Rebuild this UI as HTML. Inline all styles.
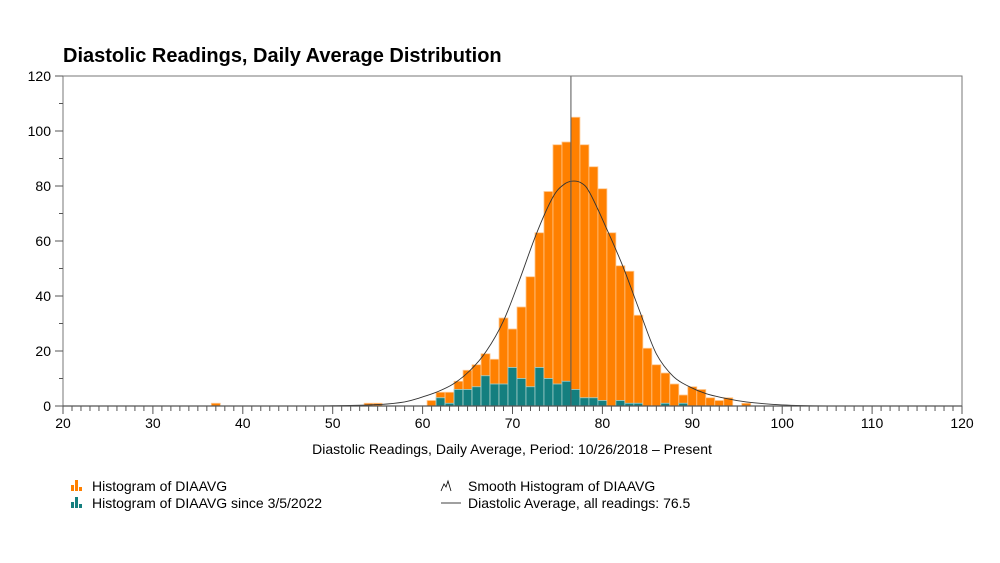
<!DOCTYPE html>
<html><head><meta charset="utf-8"><style>
body{margin:0;background:#fff;font-family:"Liberation Sans",Arial,sans-serif}
svg{display:block}
</style></head><body>
<svg id="c" width="1000" height="563" viewBox="0 0 1000 563">
<text x="63" y="62" font-size="20" font-weight="bold" fill="#000">Diastolic Readings, Daily Average Distribution</text>
<g id="plot"></g>
<text x="512" y="454" font-size="14" text-anchor="middle">Diastolic Readings, Daily Average, Period: 10/26/2018 – Present</text>
<g font-size="14">
 <g>
  <rect x="71" y="485" width="3" height="6" fill="#ff8000"/><rect x="75" y="480" width="3" height="11" fill="#ff8000"/><rect x="79" y="487" width="3" height="4" fill="#ff8000"/>
  <text x="92" y="491">Histogram of DIAAVG</text></g>
 <g>
  <rect x="71" y="502" width="3" height="6" fill="#147f7f"/><rect x="75" y="497" width="3" height="11" fill="#147f7f"/><rect x="79" y="504" width="3" height="4" fill="#147f7f"/>
  <text x="92" y="508">Histogram of DIAAVG since 3/5/2022</text></g>
 <g>
  <path d="M441 491 L444 484 L446 487 L448 481 L451 491" fill="none" stroke="#000" stroke-width="0.8"/>
  <text x="468" y="491">Smooth Histogram of DIAAVG</text></g>
 <g>
  <line x1="441" y1="503" x2="461" y2="503" stroke="#000" stroke-width="0.8"/>
  <text x="468" y="508">Diastolic Average, all readings: 76.5</text></g>
</g>
</svg>
<script>
const bins=[37,54,55,61,62,63,64,65,66,67,68,69,70,71,72,73,74,75,76,77,78,79,80,81,82,83,84,85,86,87,88,89,90,91,92,93,94,96];
const allCounts=[1,1,1,2,5,5,9,13,15,19,17,32,28,36,47,63,78,95,96,105,95,87,79,63,51,49,33,21,15,12,8,4,7,6,3,2,3,1];
const sinceCounts=[0,0,0,0,3,1,6,6,7,11,8,8,14,10,7,14,10,8,9,6,3,3,2,0,2,1,1,0,0,1,0,1,0,0,0,0,0,0];
const smoothX=[20,45,50,55,58,59.7,61.5,63.4,65.3,67.1,69,70.8,72.7,74.5,75.7,76.7,77.7,78.6,80.4,82.3,84.2,86,87.9,89.7,91.5,93.4,96,100,105,120];
const smoothY=[0,0,0.1,0.5,1.5,3,5,8,13,20,31,46,63,76,80.5,81.8,81,77.5,65,50.6,34,19,10.7,7,4.5,3,1.5,0.4,0.05,0];
const meanValue=76.5;
const xTicks=[20,30,40,50,60,70,80,90,100,110,120];
const yTicks=[0,20,40,60,80,100,120];
const X0=63,X1=962,Y0=406,Y1=76;
const xs=v=>X0+(v-20)/100*(X1-X0);
const ys=v=>Y0-v/120*(Y0-Y1);
const NS="http://www.w3.org/2000/svg";
const g=document.getElementById('plot');
function mk(t,a){const e=document.createElementNS(NS,t);for(const k in a)e.setAttribute(k,a[k]);g.appendChild(e);return e;}
bins.forEach((b,i)=>{
 const r=mk('rect',{x:xs(b-0.5),y:ys(allCounts[i]),width:xs(b+0.5)-xs(b-0.5),height:Y0-ys(allCounts[i]),fill:'#ff8000',stroke:'#ffc890','stroke-width':0.8});
 
 
 if(sinceCounts[i]>0){
  const t=mk('rect',{x:xs(b-0.5),y:ys(sinceCounts[i]),width:xs(b+0.5)-xs(b-0.5),height:Y0-ys(sinceCounts[i]),fill:'#147f7f',stroke:'#9fd0d0','stroke-width':0.8});
  
  
 }
});
const P=smoothX.map((x,i)=>[xs(x),ys(smoothY[i])]);
let d='M'+P[0][0].toFixed(1)+' '+P[0][1].toFixed(1);
for(let i=0;i<P.length-1;i++){
 const p0=P[Math.max(i-1,0)],p1=P[i],p2=P[i+1],p3=P[Math.min(i+2,P.length-1)];
 const c1=[p1[0]+(p2[0]-p0[0])/6,p1[1]+(p2[1]-p0[1])/6];
 const c2=[p2[0]-(p3[0]-p1[0])/6,p2[1]-(p3[1]-p1[1])/6];
 d+=' C'+c1[0].toFixed(1)+' '+c1[1].toFixed(1)+' '+c2[0].toFixed(1)+' '+c2[1].toFixed(1)+' '+p2[0].toFixed(1)+' '+p2[1].toFixed(1);
}
const p=mk('path',{d:d,fill:'none',stroke:'#333','stroke-width':0.9});


const ml=mk('line',{x1:xs(meanValue),x2:xs(meanValue),y1:Y1,y2:Y0,stroke:'#555','stroke-width':1});


const fr=mk('rect',{x:X0,y:Y1,width:X1-X0,height:Y0-Y1,fill:'none',stroke:'#777','stroke-width':1});


const xa=mk('line',{x1:X0,x2:X1,y1:Y0,y2:Y0,stroke:'#555','stroke-width':1.2});


for(let v=20;v<=120;v++){const maj=v%10===0;mk('line',{x1:xs(v),x2:xs(v),y1:Y0,y2:Y0+(maj?8:5),stroke:'#555','stroke-width':1});}
xTicks.forEach(v=>{const t=mk('text',{x:xs(v),y:Y0+22,'font-size':14,'text-anchor':'middle'});t.textContent=v;
 
 });
for(let v=0;v<=120;v+=10){const maj=v%20===0;mk('line',{x1:X0-(maj?8:4),x2:X0,y1:ys(v),y2:ys(v),stroke:'#555','stroke-width':1});}
yTicks.forEach(v=>{const t=mk('text',{x:X0-12,y:ys(v)+5,'font-size':14,'text-anchor':'end'});t.textContent=v;
 
 });
</script>
</body></html>
